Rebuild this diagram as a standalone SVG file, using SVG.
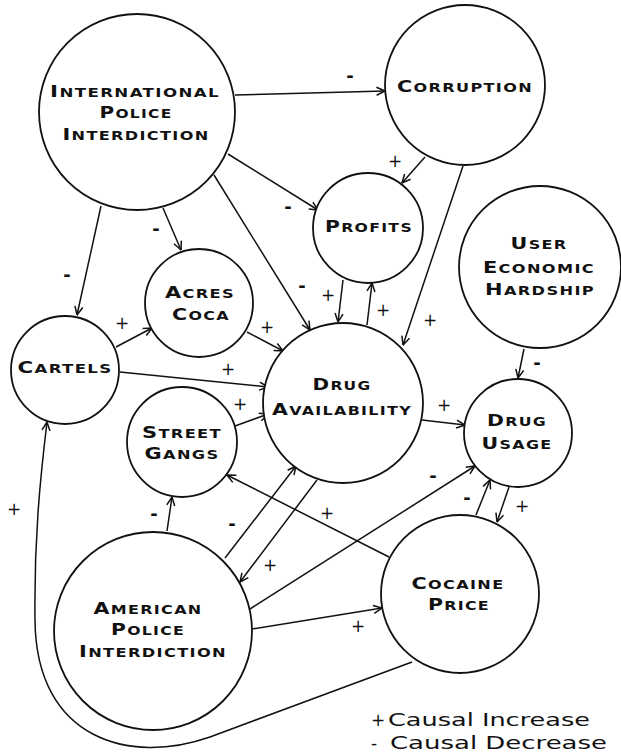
<svg xmlns="http://www.w3.org/2000/svg" width="621" height="755" viewBox="0 0 621 755">
<style>
.c{fill:#fff;stroke:#111;stroke-width:1.8}
.t{font-family:"DejaVu Sans",sans-serif;font-weight:bold;font-size:12px;letter-spacing:1px;fill:#111;text-anchor:middle}
.b{font-size:15.5px}
.e{fill:none;stroke:#111;stroke-width:1.5;marker-end:url(#a)}
.p{font-family:"DejaVu Sans",sans-serif;font-size:17px;fill:#111;text-anchor:middle}
.m{font-family:"DejaVu Sans",sans-serif;font-weight:bold;font-size:18px;fill:#111;text-anchor:middle}
.l{font-family:"DejaVu Sans",sans-serif;font-size:17px;fill:#111}
</style>
<defs>
<marker id="a" viewBox="0 0 10 10" refX="9.5" refY="5" markerWidth="10" markerHeight="10" markerUnits="userSpaceOnUse" orient="auto">
<path d="M1,1 L9.5,5 L1,9" fill="none" stroke="#111" stroke-width="1.5"/>
</marker>
</defs>
<rect width="621" height="755" fill="#fff"/>
<g id="connectors">
<path class="e" d="M235,95 L385,91"/>
<path class="e" d="M425,157 L402,183"/>
<path class="e" d="M463,166 L403,345"/>
<path class="e" d="M228,154 L318,210"/>
<path class="e" d="M214,175 L310,330"/>
<path class="e" d="M163,208 L181,250"/>
<path class="e" d="M101,206 L77,315"/>
<path class="e" d="M116,347 L152,328"/>
<path class="e" d="M120,372 L268,387"/>
<path class="e" d="M247,332 L283,351"/>
<path class="e" d="M235,426 L268,414"/>
<path class="e" d="M343,280 L338,322"/>
<path class="e" d="M367,325 L372,283"/>
<path class="e" d="M524,349 L518,378"/>
<path class="e" d="M422,420 L465,425"/>
<path class="e" d="M250,609 L475,466"/>
<path class="e" d="M252,629 L382,608"/>
<path class="e" d="M167,531 L172,497"/>
<path class="e" d="M225,558 L296,466"/>
<path class="e" d="M317,480 L240,582"/>
<path class="e" d="M389,557 L227,475"/>
<path class="e" d="M476,515 L490,480"/>
<path class="e" d="M509,487 L497,522"/>
<path class="e" d="M412,662 L210,737 C130,765 36,740 35,620 C34,540 40,480 47,422"/>
<text class="m" x="350" y="82">-</text>
<text class="p" x="395" y="167">+</text>
<text class="p" x="430" y="326">+</text>
<text class="m" x="288" y="213">-</text>
<text class="m" x="302" y="292">-</text>
<text class="m" x="156" y="235">-</text>
<text class="m" x="67" y="281">-</text>
<text class="p" x="122" y="329">+</text>
<text class="p" x="228" y="375">+</text>
<text class="p" x="267" y="333">+</text>
<text class="p" x="240" y="410">+</text>
<text class="p" x="328" y="301">+</text>
<text class="p" x="383" y="316">+</text>
<text class="m" x="537" y="369">-</text>
<text class="p" x="444" y="411">+</text>
<text class="m" x="433" y="482">-</text>
<text class="p" x="358" y="632">+</text>
<text class="m" x="154" y="520">-</text>
<text class="m" x="232" y="530">-</text>
<text class="p" x="270" y="571">+</text>
<text class="p" x="327" y="519">+</text>
<text class="m" x="467" y="504">-</text>
<text class="p" x="522" y="512">+</text>
<text class="p" x="14" y="515">+</text>
</g>
<g id="intl-police">
<circle class="c" cx="137" cy="112" r="98"/>
<text class="t" x="135" y="97" textLength="170" lengthAdjust="spacingAndGlyphs"><tspan class="b">I</tspan>NTERNATIONAL</text>
<text class="t" x="136" y="118" textLength="73" lengthAdjust="spacingAndGlyphs"><tspan class="b">P</tspan>OLICE</text>
<text class="t" x="136" y="140" textLength="147" lengthAdjust="spacingAndGlyphs"><tspan class="b">I</tspan>NTERDICTION</text>
</g>
<g id="corruption">
<circle class="c" cx="465" cy="85" r="80"/>
<text class="t" x="465" y="92" textLength="136" lengthAdjust="spacingAndGlyphs"><tspan class="b">C</tspan>ORRUPTION</text>
</g>
<g id="profits">
<circle class="c" cx="368" cy="228" r="55"/>
<text class="t" x="369" y="232" textLength="88" lengthAdjust="spacingAndGlyphs"><tspan class="b">P</tspan>ROFITS</text>
</g>
<g id="hardship">
<circle class="c" cx="540" cy="267" r="81"/>
<text class="t" x="539" y="249" textLength="57" lengthAdjust="spacingAndGlyphs"><tspan class="b">U</tspan>SER</text>
<text class="t" x="539" y="273" textLength="112" lengthAdjust="spacingAndGlyphs"><tspan class="b">E</tspan>CONOMIC</text>
<text class="t" x="540" y="295" textLength="110" lengthAdjust="spacingAndGlyphs"><tspan class="b">H</tspan>ARDSHIP</text>
</g>
<g id="drug-usage">
<circle class="c" cx="518" cy="433" r="54"/>
<text class="t" x="517" y="426" textLength="60" lengthAdjust="spacingAndGlyphs"><tspan class="b">D</tspan>RUG</text>
<text class="t" x="517" y="449" textLength="71" lengthAdjust="spacingAndGlyphs"><tspan class="b">U</tspan>SAGE</text>
</g>
<g id="drug-availability">
<circle class="c" cx="343" cy="403" r="80"/>
<text class="t" x="342" y="390" textLength="59" lengthAdjust="spacingAndGlyphs"><tspan class="b">D</tspan>RUG</text>
<text class="t" x="342" y="415" textLength="140" lengthAdjust="spacingAndGlyphs"><tspan class="b">A</tspan>VAILABILITY</text>
</g>
<g id="acres-coca">
<circle class="c" cx="199" cy="303" r="54"/>
<text class="t" x="200" y="298" textLength="70" lengthAdjust="spacingAndGlyphs"><tspan class="b">A</tspan>CRES</text>
<text class="t" x="201" y="320" textLength="58" lengthAdjust="spacingAndGlyphs"><tspan class="b">C</tspan>OCA</text>
</g>
<g id="cartels">
<circle class="c" cx="65" cy="370" r="54"/>
<text class="t" x="65" y="373" textLength="95" lengthAdjust="spacingAndGlyphs"><tspan class="b">C</tspan>ARTELS</text>
</g>
<g id="street-gangs">
<circle class="c" cx="182" cy="442" r="55"/>
<text class="t" x="182" y="438" textLength="80" lengthAdjust="spacingAndGlyphs"><tspan class="b">S</tspan>TREET</text>
<text class="t" x="182" y="459" textLength="75" lengthAdjust="spacingAndGlyphs"><tspan class="b">G</tspan>ANGS</text>
</g>
<g id="american-police">
<circle class="c" cx="153" cy="631" r="99"/>
<text class="t" x="148" y="614" textLength="109" lengthAdjust="spacingAndGlyphs"><tspan class="b">A</tspan>MERICAN</text>
<text class="t" x="148" y="635" textLength="74" lengthAdjust="spacingAndGlyphs"><tspan class="b">P</tspan>OLICE</text>
<text class="t" x="153" y="657" textLength="148" lengthAdjust="spacingAndGlyphs"><tspan class="b">I</tspan>NTERDICTION</text>
</g>
<g id="cocaine-price">
<circle class="c" cx="460" cy="594" r="79"/>
<text class="t" x="458" y="589" textLength="93" lengthAdjust="spacingAndGlyphs"><tspan class="b">C</tspan>OCAINE</text>
<text class="t" x="459" y="610" textLength="62" lengthAdjust="spacingAndGlyphs"><tspan class="b">P</tspan>RICE</text>
</g>
<g id="legend">
<text class="l" x="371" y="726">+</text>
<text class="l" x="388" y="726" textLength="202" lengthAdjust="spacingAndGlyphs">Causal Increase</text>
<text class="l" x="371" y="749">-</text>
<text class="l" x="390" y="749" textLength="217" lengthAdjust="spacingAndGlyphs">Causal Decrease</text>
</g>
</svg>
